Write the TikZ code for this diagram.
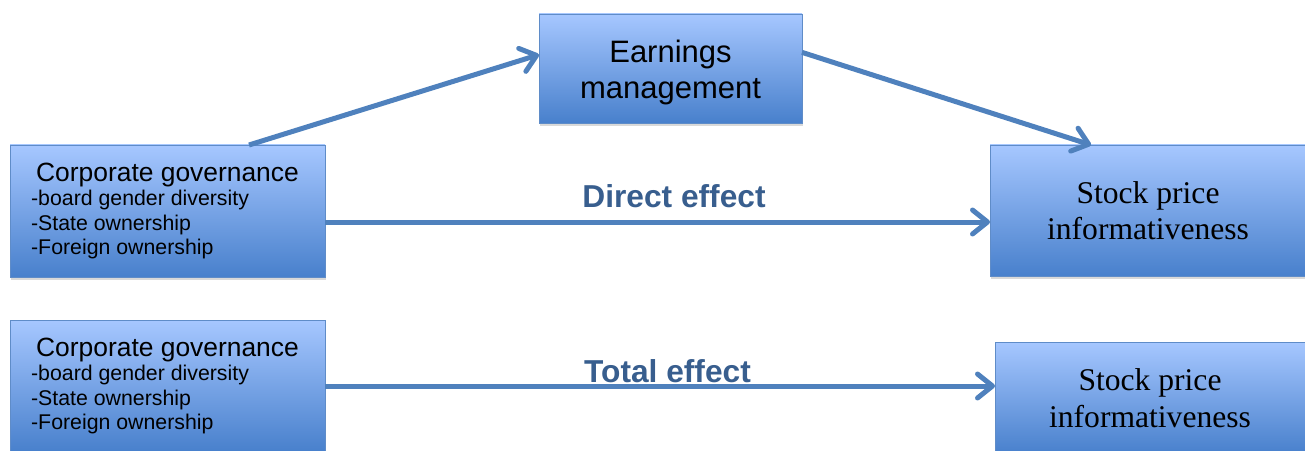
\documentclass[tikz,border=0pt]{standalone}
\usepackage{fontspec}
\setmainfont{Liberation Serif}
\newfontfamily\arialFont{Liberation Sans}
\usepackage{tikz,tkz-graph}
\usetikzlibrary{arrows.meta,shadows}
\definecolor{boxTop}{RGB}{166,199,255}
\definecolor{boxBottom}{RGB}{72,128,204}
\definecolor{boxLine}{RGB}{95,140,200}
\definecolor{arrowBlue}{RGB}{79,129,189}
\definecolor{effectBlue}{RGB}{56,94,142}
\tikzstyle{blueBox}=[shape = rectangle, inner sep = 0pt, draw = boxLine, line width = 0.8pt, top color = boxTop, bottom color = boxBottom, drop shadow = {opacity = 0.3, shadow xshift = 1pt, shadow yshift = -3pt}]
\tikzstyle{govBox}=[blueBox, minimum width = 315pt, minimum height = 132pt, align = left, font = {\arialFont\fontsize{21.3}{24.5}\selectfont}]
\tikzstyle{earnBox}=[blueBox, minimum width = 263pt, minimum height = 109pt, align = center, font = {\arialFont\fontsize{31}{36}\selectfont}]
\tikzstyle{priceBox}=[blueBox, minimum width = 316pt, minimum height = 131pt, align = center, font = {\fontsize{31.6}{36.5}\selectfont}]

\begin{document}
\begin{tikzpicture}[x = 1pt, y = 1pt]
\tikzstyle{VertexStyle} = []
\tikzstyle{priceBoxLow}=[priceBox, minimum width = 310pt, minimum height = 112pt]
\tikzstyle{effectLabel}=[anchor = base, inner sep = 0pt, text = effectBlue, font = {\arialFont\bfseries\fontsize{31.7}{36}\selectfont}]
\tikzstyle{flowArrow}=[draw = arrowBlue, line width = 5pt, -{Straight Barb[length = 15pt, width = 24pt, round]}]
\useasboundingbox (0,0) rectangle (1305,450);
\Vertex[style = govBox, x = 167.5, y = 239, L = {{\fontsize{26.4}{30}\selectfont Corporate governance}\\\hspace*{-5pt}-board gender diversity\\\hspace*{-5pt}-State ownership\\\hspace*{-5pt}-Foreign ownership}]{gov1}
\Vertex[style = earnBox, x = 670.5, y = 381.5, L = {\rule{0pt}{30pt}Earnings\\management}]{earn}
\Vertex[style = priceBox, x = 1148, y = 239.5, L = {Stock price\\informativeness}]{price1}
\Vertex[style = govBox, x = 167.5, y = 64, L = {{\fontsize{26.4}{30}\selectfont Corporate governance}\\\hspace*{-5pt}-board gender diversity\\\hspace*{-5pt}-State ownership\\\hspace*{-5pt}-Foreign ownership}]{gov2}
\Vertex[style = priceBoxLow, x = 1150, y = 52, L = {Stock price\\informativeness}]{price2}
% arrows
\draw[flowArrow] (gov1.39) -- (earn.174);
\draw[flowArrow] (earn.7) -- (price1.131);
\draw[flowArrow] (gov1.356) -- (gov1.356 -| price1.west);
\draw[flowArrow] (gov2.east) -- (gov2.east -| price2.west);
\Vertex[style = effectLabel, x = 674, y = 242, L = {Direct effect}]{direct}
\Vertex[style = effectLabel, x = 667.5, y = 68, L = {Total effect}]{total}
\end{tikzpicture}
\end{document}
